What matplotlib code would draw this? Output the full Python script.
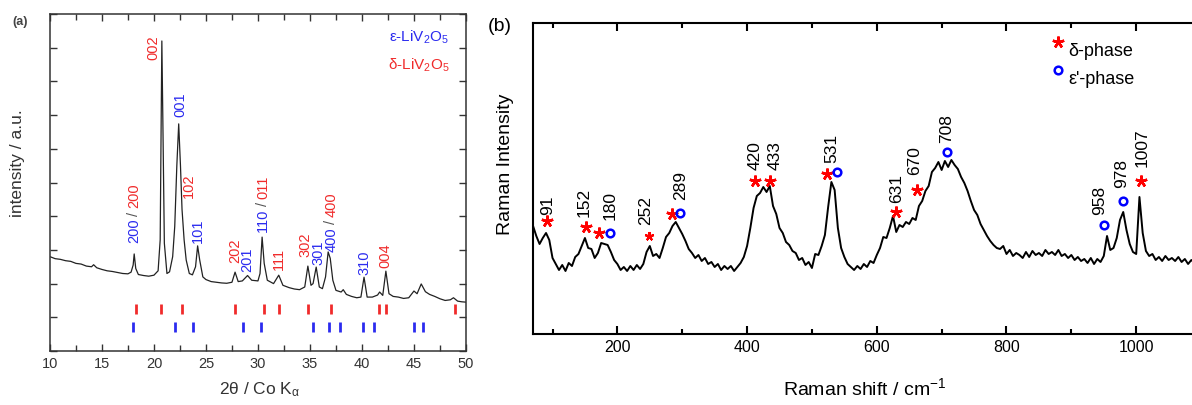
import matplotlib.pyplot as plt
from matplotlib.ticker import MultipleLocator

plt.rcParams['font.family'] = ['Liberation Sans', 'DejaVu Sans']
plt.rcParams['mathtext.fontset'] = 'custom'
plt.rcParams['mathtext.rm'] = 'Liberation Sans'
plt.rcParams['mathtext.it'] = 'Liberation Sans:italic'

# ---- (a) XRD pattern ----
xrd_2theta = [10, 10.5, 11, 11.5, 12, 12.5, 13, 13.5, 14, 14.2,
              14.5, 15, 15.5, 16, 16.5, 17, 17.5, 17.8, 18.0, 18.1,
              18.25, 18.5, 19, 19.5, 20, 20.4, 20.6, 20.7, 20.76, 20.85,
              21.0, 21.25, 21.5, 21.8, 22.0, 22.2, 22.38, 22.55, 22.7, 22.9,
              23.1, 23.4, 23.7, 24.0, 24.2, 24.4, 24.7, 25, 25.5, 26,
              26.5, 27, 27.5, 27.8, 28.1, 28.5, 29.0, 29.4, 30.0, 30.2,
              30.4, 30.6, 30.9, 31.5, 32.0, 32.4, 33, 33.5, 34, 34.5,
              34.8, 35.1, 35.3, 35.6, 35.9, 36.2, 36.5, 36.75, 36.95, 37.2,
              37.5, 38, 38.2, 38.5, 39, 39.5, 39.9, 40.2, 40.5, 41,
              41.5, 41.7, 42.0, 42.3, 42.6, 43, 43.5, 44, 44.5, 45.0,
              45.3, 45.7, 46.1, 46.5, 47, 47.5, 48, 48.5, 48.8, 49.2,
              49.6, 50]
xrd_int = [2.80, 2.74, 2.72, 2.68, 2.66, 2.60, 2.58, 2.52, 2.50, 2.56,
           2.47, 2.42, 2.38, 2.36, 2.33, 2.30, 2.29, 2.34, 2.55, 2.88,
           2.45, 2.27, 2.24, 2.22, 2.25, 2.38, 3.30, 7.00, 9.20, 7.00,
           3.20, 2.30, 2.35, 2.80, 3.70, 5.50, 6.74, 5.50, 4.20, 3.30,
           2.70, 2.30, 2.26, 2.50, 3.12, 2.70, 2.20, 2.12, 2.06, 2.04,
           2.02, 2.01, 2.04, 2.34, 2.06, 2.08, 2.24, 2.10, 2.08, 2.30,
           3.38, 2.60, 2.10, 2.00, 2.25, 1.95, 1.88, 1.84, 1.82, 1.90,
           2.52, 1.95, 2.00, 2.49, 1.90, 1.85, 2.20, 2.94, 2.75, 2.10,
           1.80, 1.75, 1.82, 1.68, 1.62, 1.58, 1.60, 2.19, 1.60, 1.60,
           1.66, 1.75, 1.65, 2.37, 1.70, 1.62, 1.60, 1.56, 1.58, 1.78,
           1.70, 1.99, 1.76, 1.68, 1.62, 1.55, 1.50, 1.52, 1.58, 1.48,
           1.46, 1.45]

delta_ref = [18.3, 20.7, 22.7, 27.8, 30.6, 32.0, 34.8, 37.0, 41.6, 42.3, 48.9]
eps_ref = [18.0, 22.0, 23.8, 28.6, 30.3, 35.3, 36.8, 37.9, 40.1, 41.2, 45.0, 45.9]

# hkl labels: (parts, x, bottom y); parts are (text, phase) with phase 'e', 'd' or 's'
hkl_labels = [
    ([('200', 'e'), ('/', 's'), ('200', 'd')], 18.1, 3.23),
    ([('002', 'd')], 19.9, 8.66),
    ([('001', 'e')], 22.5, 6.97),
    ([('102', 'd')], 23.4, 4.57),
    ([('101', 'e')], 24.2, 3.23),
    ([('202', 'd')], 27.8, 2.64),
    ([('201', 'e')], 28.95, 2.37),
    ([('110', 'e'), ('/', 's'), ('011', 'd')], 30.5, 3.56),
    ([('111', 'd')], 32.0, 2.43),
    ([('302', 'd')], 34.6, 2.82),
    ([('301', 'e')], 35.8, 2.58),
    ([('400', 'e'), ('/', 's'), ('400', 'd')], 37.05, 2.97),
    ([('310', 'e')], 40.2, 2.28),
    ([('004', 'd')], 42.3, 2.49),
]

# ---- (b) Raman spectrum ----
raman_shift = list(range(70, 1101, 5))
raman_int = [108, 98, 90, 96, 101, 94, 76, 70, 64, 69, 63, 71, 68, 77, 80, 88, 96, 86, 85, 76,
             81, 91, 90, 89, 82, 74, 70, 64, 67, 63, 68, 64, 69, 65, 70, 82, 88, 78, 80, 76,
             86, 97, 101, 108, 112, 106, 100, 93, 85, 81, 76, 79, 73, 76, 70, 72, 67, 70, 64, 68,
             65, 68, 63, 67, 71, 77, 88, 106, 126, 138, 141, 147, 142, 148, 128, 120, 106, 101, 92, 89,
             83, 81, 74, 76, 69, 72, 66, 80, 79, 88, 99, 127, 152, 144, 106, 86, 77, 70, 67, 64,
             68, 65, 70, 67, 73, 71, 79, 86, 97, 96, 106, 118, 102, 109, 107, 112, 110, 116, 114, 128,
             133, 143, 148, 162, 166, 172, 164, 173, 167, 174, 169, 165, 157, 151, 143, 133, 124, 119, 110, 104,
             98, 93, 89, 86, 85, 88, 80, 84, 78, 81, 79, 76, 82, 77, 83, 79, 81, 78, 84, 80,
             82, 79, 84, 78, 80, 76, 79, 74, 77, 73, 75, 71, 76, 70, 75, 72, 78, 98, 84, 86,
             96, 114, 122, 104, 90, 82, 80, 137, 101, 83, 78, 80, 74, 77, 73, 78, 74, 76, 73, 77,
             72, 75, 70, 74, 71, 73, 72]

peak_labels = ['91', '152', '180', '252', '289', '420', '433', '531', '631', '670', '708', '958', '978', '1007']
peak_label_x = [92, 148, 189, 243, 297, 412, 443, 531, 631, 659, 708, 943, 977, 1009]
peak_label_y = [120, 118, 115, 110, 135, 165, 165, 172, 132, 160, 192, 120, 147, 168]

delta_x = [91, 152, 171, 285, 412, 436, 523, 630, 662, 1008]
delta_y = [113, 107, 101, 120, 153, 153, 160, 122, 144, 153]
delta_small = (248, 98)
eps_x = [189, 297, 539, 708, 951, 979]
eps_y = [101, 121, 162, 182, 109, 133]

blue_a, red_a, gray_a = '#2b2bef', '#f02b2b', '#555555'
phase_col = {'e': blue_a, 'd': red_a, 's': gray_a}
star = (5, 2, 0)

fig = plt.figure(figsize=(11.92, 4.06), dpi=100)
axa = fig.add_axes([0.0419, 0.133, 0.349, 0.830])
axb = fig.add_axes([0.4472, 0.1749, 0.5604, 0.766])
rend = fig.canvas.get_renderer()

# panel a
axa.plot(xrd_2theta, xrd_int, color='#222222', lw=0.9)
axa.vlines(delta_ref, 1.10, 1.40, color=red_a, lw=2)
axa.vlines(eps_ref, 0.56, 0.86, color=blue_a, lw=2)
axa.set_xlim(10, 50)
axa.set_ylim(0, 10)
axa.xaxis.set_major_locator(MultipleLocator(5))
axa.xaxis.set_minor_locator(MultipleLocator(2.5))
axa.yaxis.set_major_locator(MultipleLocator(1))
axa.tick_params(which='both', direction='in', top=True, right=True, color='#333333',
                labelcolor='#333333', labelsize=10.5, labelleft=False, width=1)
axa.tick_params(which='major', length=5)
axa.tick_params(which='minor', length=4)
for sp in axa.spines.values():
    sp.set_color('#333333')
    sp.set_linewidth(1.1)
axa.set_xlabel('2θ / Co K$_\\mathregular{α}$', fontsize=12.5, color='#333333')
axa.xaxis.label.set_va('center')
axa.xaxis.set_label_coords(0.505, -0.113)
axa.set_ylabel('intensity / a.u.', fontsize=12.5, color='#333333')
axa.yaxis.label.set_va('center')
axa.yaxis.set_label_coords(-0.079, 0.56)

for parts, x, y in hkl_labels:
    for s, ph in parts:
        t = axa.text(x, y, s, rotation=90, ha='center', va='bottom', color=phase_col[ph], fontsize=10.5)
        bb = t.get_window_extent(renderer=rend)
        y = axa.transData.inverted().transform((bb.x0, bb.y1 + 3))[1]

axa.text(48.4, 9.35, 'ε-LiV$_\\mathregular{2}$O$_\\mathregular{5}$', ha='right', va='center', color=blue_a, fontsize=11)
axa.text(48.4, 8.52, 'δ-LiV$_\\mathregular{2}$O$_\\mathregular{5}$', ha='right', va='center', color=red_a, fontsize=11)
fig.text(0.0168, 0.946, '(a)', ha='center', va='center', fontsize=9, weight='bold', color='#444444')

# panel b
axb.plot(raman_shift, raman_int, color='black', lw=1.4)
axb.plot(delta_x, delta_y, ls='none', marker=star, ms=8.5, mew=1.8, color='red')
axb.plot(*delta_small, ls='none', marker=star, ms=6.5, mew=1.5, color='red')
axb.plot(eps_x, eps_y, ls='none', marker='o', ms=5.5, mew=1.8, mfc='none', mec='blue')
for s, x, y in zip(peak_labels, peak_label_x, peak_label_y):
    axb.text(x, y, s, rotation=90, ha='center', va='bottom', fontsize=12.5)

axb.plot(880, 292, ls='none', marker=star, ms=8.5, mew=1.8, color='red')
axb.text(895, 283, 'δ-phase', ha='left', va='center', fontsize=13)
axb.plot(880, 264, ls='none', marker='o', ms=5.5, mew=1.8, mfc='none', mec='blue')
axb.text(895, 255, "ε'-phase", ha='left', va='center', fontsize=13)

axb.set_xlim(70, 1100)
axb.set_ylim(0, 311)
axb.xaxis.set_major_locator(MultipleLocator(200))
axb.xaxis.set_minor_locator(MultipleLocator(100))
axb.set_yticks([])
axb.tick_params(axis='x', which='both', direction='in', top=True, labelsize=11.5, width=1.5)
axb.tick_params(axis='x', which='major', length=6)
axb.tick_params(axis='x', which='minor', length=3.5)
for sp in axb.spines.values():
    sp.set_linewidth(1.5)
axb.set_xlabel('Raman shift / cm$^\\mathregular{-1}$', fontsize=14)
axb.xaxis.label.set_va('center')
axb.xaxis.set_label_coords(0.497, -0.17)
axb.set_ylabel('Raman Intensity', fontsize=14)
axb.yaxis.label.set_va('center')
axb.yaxis.set_label_coords(-0.042, 0.55)
fig.text(0.4195, 0.9335, '(b)', ha='center', va='center', fontsize=14)

fig.savefig('out.png', dpi=100)
